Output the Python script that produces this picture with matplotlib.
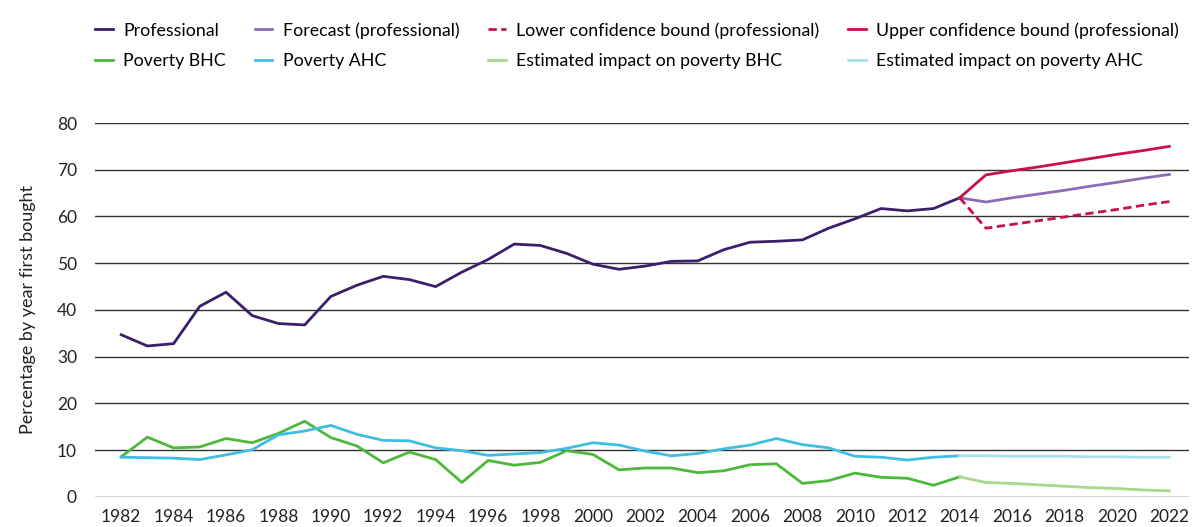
import matplotlib.pyplot as plt

plt.rcParams['font.family'] = ['Lato', 'DejaVu Sans']

years = list(range(1982, 2015))
professional = [34.7, 32.3, 32.8, 40.8, 43.8, 38.8, 37.1, 36.8, 42.9, 45.3, 47.2,
                46.5, 45.0, 48.1, 50.8, 54.1, 53.8, 52.1, 49.8, 48.7, 49.4, 50.4,
                50.5, 52.9, 54.5, 54.7, 55.0, 57.5, 59.5, 61.7, 61.2, 61.7, 64.0]
poverty_bhc = [8.6, 12.8, 10.5, 10.7, 12.5, 11.6, 13.6, 16.2, 12.7, 10.9, 7.3,
               9.6, 8.0, 3.1, 7.8, 6.8, 7.4, 9.9, 9.1, 5.8, 6.2, 6.2,
               5.2, 5.6, 6.9, 7.1, 2.9, 3.5, 5.1, 4.2, 4.0, 2.5, 4.3]
poverty_ahc = [8.5, 8.4, 8.3, 8.0, 9.0, 10.1, 13.3, 14.1, 15.3, 13.4, 12.1,
               12.0, 10.5, 9.9, 8.9, 9.2, 9.5, 10.4, 11.6, 11.1, 9.8, 8.8,
               9.3, 10.3, 11.1, 12.5, 11.2, 10.5, 8.7, 8.5, 7.9, 8.5, 8.8]

f_years = list(range(2014, 2023))
forecast = [64.0, 63.1, 64.0, 64.8, 65.6, 66.5, 67.3, 68.2, 69.0]
upper = [64.0, 68.9, 69.8, 70.6, 71.5, 72.4, 73.3, 74.1, 75.0]
lower = [64.0, 57.5, 58.3, 59.1, 59.9, 60.7, 61.5, 62.4, 63.2]
est_bhc = [4.3, 3.1, 2.9, 2.6, 2.3, 2.0, 1.8, 1.5, 1.3]
est_ahc = [8.8, 8.8, 8.7, 8.7, 8.7, 8.6, 8.6, 8.5, 8.5]

fig = plt.figure(figsize=(11.92, 5.27), dpi=100)
ax = fig.add_axes([0.0797, 0.057, 0.918, 0.7096])

lw = 2
l1, = ax.plot(years, professional, color='#3b1f6b', lw=lw, label='Professional')
l2, = ax.plot(f_years, forecast, color='#8e6bb5', lw=lw, label='Forecast (professional)')
l3, = ax.plot(f_years, lower, color='#c8104a', lw=lw, ls=(0, (3, 1.6)),
              label='Lower confidence bound (professional)')
l4, = ax.plot(f_years, upper, color='#c8104a', lw=lw, label='Upper confidence bound (professional)')
l5, = ax.plot(years, poverty_bhc, color='#4cb93a', lw=lw, label='Poverty BHC')
l6, = ax.plot(years, poverty_ahc, color='#40bde0', lw=lw, label='Poverty AHC')
l7, = ax.plot(f_years, est_bhc, color='#a5d98c', lw=lw, label='Estimated impact on poverty BHC')
l8, = ax.plot(f_years, est_ahc, color='#a8e0ee', lw=lw, label='Estimated impact on poverty AHC')

ax.set_xlim(1981.0, 2022.76)
ax.set_ylim(0, 80)
ax.set_yticks(range(0, 81, 10))
ax.set_xticks(range(1982, 2023, 2))
ax.yaxis.grid(True, color='#333333', lw=1)
ax.set_axisbelow(True)
for s in ax.spines.values():
    s.set_visible(False)
ax.tick_params(length=0, labelsize=12.5, colors='#222222', pad=9)
ax.tick_params(axis='y', pad=13)
ax.set_ylabel('Percentage by year first bought', fontsize=13, color='#222222', labelpad=15)

handles = [l1, l5, l2, l6, l3, l7, l4, l8]
fig.legend(handles, [h.get_label() for h in handles], ncol=4, loc='upper left',
           bbox_to_anchor=(95 / 1192, 0.958), frameon=False, fontsize=12.8,
           borderpad=0, borderaxespad=0,
           handlelength=1.0, handletextpad=0.6, columnspacing=1.6, labelspacing=0.8)

fig.savefig('out.png', dpi=100)
